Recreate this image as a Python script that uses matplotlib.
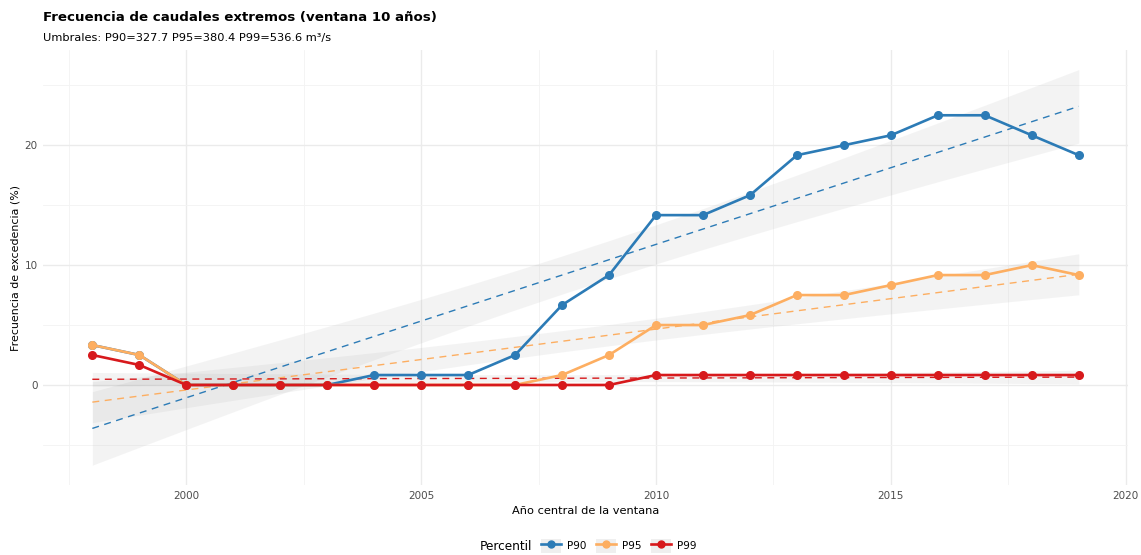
import numpy as np
import matplotlib
matplotlib.use("Agg")
from matplotlib import pyplot as plt
from matplotlib.patches import Rectangle
from matplotlib.lines import Line2D

# Data: window centre year and exceedance frequency (%)
years = np.arange(1998, 2020)
p90 = [3.33, 2.5, 0, 0, 0, 0, 0.83, 0.83, 0.83, 2.5, 6.67, 9.17, 14.17, 14.17,
       15.83, 19.17, 20.0, 20.83, 22.5, 22.5, 20.83, 19.17]
p95 = [3.33, 2.5, 0, 0, 0, 0, 0, 0, 0, 0, 0.83, 2.5, 5.0, 5.0,
       5.83, 7.5, 7.5, 8.33, 9.17, 9.17, 10.0, 9.17]
p99 = [2.5, 1.67, 0, 0, 0, 0, 0, 0, 0, 0, 0, 0, 0.83, 0.83,
       0.83, 0.83, 0.83, 0.83, 0.83, 0.83, 0.83, 0.83]
labels = ["P90", "P95", "P99"]
colors = ["#2C7BB6", "#FDAE61", "#D7191C"]

T975 = 2.086  # t quantile, df = 20


def lm_fit(x, y):
    x = np.asarray(x, float)
    y = np.asarray(y, float)
    n = len(x)
    b, a = np.polyfit(x, y, 1)
    fit = a + b * x
    s = np.sqrt(np.sum((y - fit) ** 2) / (n - 2))
    xm = x.mean()
    se = s * np.sqrt(1.0 / n + (x - xm) ** 2 / np.sum((x - xm) ** 2))
    return fit, fit - T975 * se, fit + T975 * se


fig = plt.figure(figsize=(11.41, 5.55), dpi=100)
ax = fig.add_axes([0.0377, 0.126, 0.951, 0.784])

handles = []
for vals, lab, col in zip([p90, p95, p99], labels, colors):
    fit, lo, hi = lm_fit(years, vals)
    ax.fill_between(years, lo, hi, color="#999999", alpha=0.11, linewidth=0, zorder=1)
    ax.plot(years, fit, color=col, linewidth=1.0, linestyle=(0, (5, 4)), zorder=2)

for vals, lab, col in zip([p90, p95, p99], labels, colors):
    ax.plot(years, vals, color=col, linewidth=1.9, marker="o", markersize=5.5,
            zorder=3)
    key_bg = Rectangle((0, 0), 1, 1, facecolor="#EFEFEF", edgecolor="none")
    key_ln = Line2D([], [], color=col, linewidth=1.9, marker="o", markersize=5)
    handles.append((key_bg, key_ln))

ax.set_xlim(1996.95, 2020.05)
ax.set_ylim(-8.35, 27.95)
ax.set_xticks([2000, 2005, 2010, 2015, 2020])
ax.set_xticks([1997.5, 2002.5, 2007.5, 2012.5, 2017.5], minor=True)
ax.set_yticks([0, 10, 20])
ax.set_yticks([-5, 5, 15, 25], minor=True)
ax.grid(which="major", color="#EBEBEB", linewidth=1.0)
ax.grid(which="minor", color="#F3F3F3", linewidth=0.6)
ax.set_axisbelow(True)
for sp in ax.spines.values():
    sp.set_visible(False)
ax.tick_params(which="both", length=0, labelsize=7.5, labelcolor="#4D4D4D", pad=4)

ax.set_xlabel("Año central de la ventana", fontsize=8.2, labelpad=4)
ax.set_ylabel("Frecuencia de excedencia (%)", fontsize=7.9, labelpad=3)

fig.text(0.0377, 0.957, "Frecuencia de caudales extremos (ventana 10 años)",
         fontsize=9.6, fontweight="bold", va="bottom")
fig.text(0.0377, 0.922, "Umbrales: P90=327.7 P95=380.4 P99=536.6 m³/s",
         fontsize=8.2, va="bottom")

fig.text(0.4207, 0.016, "Percentil", fontsize=8.7, va="center")
fig.legend(handles, labels, loc="center left", bbox_to_anchor=(0.467, 0.016),
           ncol=3, frameon=False, fontsize=7.5, handlelength=1.9, handleheight=1.8,
           columnspacing=0.9, handletextpad=0.6, borderpad=0.3)

fig.savefig("out.png", dpi=100, facecolor="white")
